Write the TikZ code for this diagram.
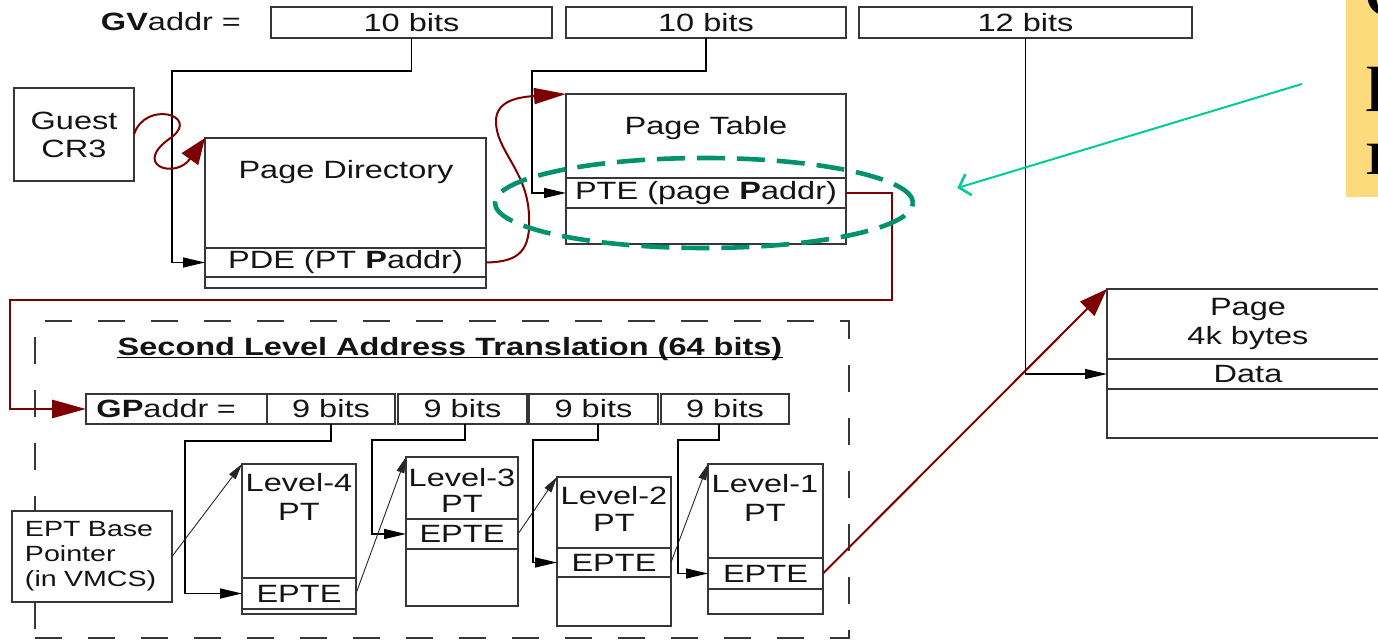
\documentclass[tikz,border=0pt]{standalone}
\usepackage{fontspec}
\setmainfont{Liberation Sans}[FakeStretch=1.3]
\newfontfamily\notefont{Liberation Serif}[FakeStretch=1.3]
\usepackage{tikz}
\usetikzlibrary{arrows.meta,positioning,calc,shapes.geometric}
\definecolor{fontgray}{RGB}{20,20,20}
\definecolor{boxgray}{RGB}{55,55,55}
\definecolor{darkred}{RGB}{125,0,0}
\definecolor{ringgreen}{RGB}{0,146,108}
\definecolor{mintgreen}{RGB}{0,204,150}
\definecolor{noteyellow}{RGB}{253,218,124}
\newcommand{\diagfont}{\fontsize{12.5}{14.5}\selectfont}

\begin{document}
\begin{tikzpicture}[x=0.5pt, y=-0.5pt, >=Triangle, font=\diagfont,
	cellBox/.style={draw=boxgray, line width=0.75pt, rectangle, inner sep=0pt, outer sep=0pt, anchor=north west, text=fontgray},
	fieldBox/.style={cellBox, minimum height=15.5pt},
	word/.style={draw=none, inner sep=0pt, text=fontgray},
	wire/.style={line width=0.7pt, draw=black, -{Triangle[length=11pt,width=5pt]}},
	thinArrow/.style={line width=0.45pt, draw=black!85, -{Triangle[length=8pt,width=4pt]}},
	redLine/.style={line width=1.4pt, draw=darkred, -{Triangle[length=17pt,width=9pt]}},
	redCurve/.style={line width=1pt, draw=darkred},
	ring/.style={draw=ringgreen, ellipse, line width=2.3pt, dash pattern=on 14pt off 6pt, inner sep=0pt},
	slatFrame/.style={cellBox, line width=0.6pt, dash pattern=on 13.5pt off 13pt},
	noteLine/.style={draw=mintgreen, line width=1pt, -{Straight Barb[length=5pt,width=11pt,line width=1.3pt]}}
	]
	\useasboundingbox (0,0) rectangle (1378,640);

	% guest virtual address
	\node[word, anchor=base] (gvlabel) at (171,31) {\textbf{GV}addr =};
	\node[fieldBox, minimum width=140.5pt] (gva) at (271,7) {10 bits};
	\node[fieldBox, minimum width=140pt] (gvb) at (566,7) {10 bits};
	\node[fieldBox, minimum width=166.5pt] (gvc) at (859,7) {12 bits};

	% guest page walk
	\node[cellBox, minimum width=60pt, minimum height=46.5pt, align=center, font=\fontsize{12.5}{14}\selectfont] (cr3) at (14,88) {Guest\\CR3};
	\node[cellBox, minimum width=140.5pt, minimum height=55pt] (pdhead) at (205,138) {};
	\node[cellBox, minimum width=140.5pt, minimum height=14.5pt, below=0pt of pdhead] (pde) {PDE (PT \textbf{P}addr)};
	\node[cellBox, minimum width=140.5pt, minimum height=5.5pt, below=0pt of pde] (pdfoot) {};
	\node[word] (pdtext) at (346,172) {Page Directory};

	\node[cellBox, minimum width=140pt, minimum height=42pt] (pthead) at (566,94) {};
	\node[cellBox, minimum width=140pt, minimum height=15pt, below=0pt of pthead] (pte) {PTE (page \textbf{P}addr)};
	\node[cellBox, minimum width=140pt, minimum height=18pt, below=0pt of pte] (ptfoot) {};
	\node[word] (pttext) at (706,128) {Page Table};

	% the 4k page
	\node[cellBox, minimum width=141pt, minimum height=35pt, align=center] (pghead) at (1107,289) {Page\\4k bytes};
	\node[cellBox, minimum width=141pt, minimum height=15pt, below=0pt of pghead] (pgdata) {Data};
	\node[cellBox, minimum width=141pt, minimum height=24.5pt, below=0pt of pgdata] (pgfoot) {};

	% second level address translation
	\node[slatFrame, minimum width=407pt, minimum height=158.5pt] (slat) at (35,321) {};
	\node[word, anchor=base, font=\diagfont\bfseries] (sltitle) at (450,356) {Second Level Address Translation (64 bits)};
	\draw[line width=0.7pt] ([yshift=-0.8pt]sltitle.base west) -- ([yshift=-0.8pt]sltitle.base east);

	\node[fieldBox, minimum width=90.5pt, minimum height=15pt, text width=80pt, align=left] (gpaddr) at (86,394) {\textbf{GP}addr =};
	\node[fieldBox, minimum width=64pt, minimum height=15pt] (gp1) at (267,394) {9 bits};
	\node[fieldBox, minimum width=64.5pt, minimum height=15pt] (gp2) at (398,394) {9 bits};
	\node[fieldBox, minimum width=64.5pt, minimum height=15pt] (gp3) at (529,394) {9 bits};
	\node[fieldBox, minimum width=64pt, minimum height=15pt] (gp4) at (661,394) {9 bits};

	\node[cellBox, fill=white, minimum width=80pt, minimum height=45.5pt, text width=67pt, align=left, font=\fontsize{11}{12.5}\selectfont] (eptbase) at (12,511) {EPT Base\\Pointer\\(in VMCS)};

	\node[cellBox, minimum width=57pt, minimum height=57pt] (l4head) at (242,464) {};
	\node[cellBox, minimum width=57pt, minimum height=15.5pt, below=0pt of l4head] (l4epte) {EPTE};
	\node[cellBox, minimum width=57pt, minimum height=2.5pt, below=0pt of l4epte] (l4foot) {};
	\node[word, align=center] (l4text) at (299,497) {Level-4\\PT};

	\node[cellBox, minimum width=56pt, minimum height=31pt] (l3head) at (406,457) {};
	\node[cellBox, minimum width=56pt, minimum height=15pt, below=0pt of l3head] (l3epte) {EPTE};
	\node[cellBox, minimum width=56pt, minimum height=28.5pt, below=0pt of l3epte] (l3foot) {};
	\node[word, align=center, font=\fontsize{12.5}{13}\selectfont] (l3text) at (462,490) {Level-3\\PT};

	\node[cellBox, minimum width=57pt, minimum height=35.5pt] (l2head) at (557,477) {};
	\node[cellBox, minimum width=57pt, minimum height=14.5pt, below=0pt of l2head] (l2epte) {EPTE};
	\node[cellBox, minimum width=57pt, minimum height=24.5pt, below=0pt of l2epte] (l2foot) {};
	\node[word, align=center, font=\fontsize{12.5}{13.5}\selectfont] (l2text) at (614,509) {Level-2\\PT};

	\node[cellBox, minimum width=57.5pt, minimum height=47pt] (l1head) at (708,464) {};
	\node[cellBox, minimum width=57.5pt, minimum height=15.5pt, below=0pt of l1head] (l1epte) {EPTE};
	\node[cellBox, minimum width=57.5pt, minimum height=12.5pt, below=0pt of l1epte] (l1foot) {};
	\node[word, align=center] (l1text) at (765,498) {Level-1\\PT};

	% index wires
	\draw[wire] (gva.south) |- (172,71) |- (pde.west);
	\draw[wire] (gvb.south) |- (532,71) |- (pte.west);
	\draw[wire] (gvc.south) |- (pgdata.west);
	\draw[wire] (gp1.south) |- (185,441) |- (l4epte.west);
	\draw[wire] ([xshift=1.25pt]gp2.south) |- (372,440) |- (l3epte.west);
	\draw[wire] ([xshift=2.25pt]gp3.south) |- (533,440) |- (l2epte.west);
	\draw[wire] ([xshift=-3pt]gp4.south) |- (678,440) |- (l1epte.west);

	% EPT walk
	\draw[thinArrow] (eptbase.east) -- (l4head.north west);
	\draw[thinArrow] (l4epte.east) -- (l3head.north west);
	\draw[thinArrow] (l3epte.east) -- (l2head.north west);
	\draw[thinArrow] (l2epte.east) -- (l1head.north west);

	% guest walk
	\draw[redCurve, -{Triangle[length=13pt,width=10pt]}] (cr3.east) .. controls (145,100) and (200,115) .. (172,137) .. controls (130,165) and (175,180) .. (pdhead.north west);
	\draw[redCurve, -{Triangle[length=16pt,width=8pt]}] (pde.east) .. controls (520,262) and (531,250) .. (529,215) .. controls (527,170) and (495,150) .. (496,120) .. controls (497,100) and (520,97) .. (pthead.north west);
	\draw[redLine] (pte.east) -| (892,300) -| (10,409) -- (gpaddr.west);
	\draw[redCurve, -{Triangle[length=14pt,width=10pt]}] (l1epte.east) -- (pghead.north west);

	% highlight and note
	\node[ring, minimum width=209pt, minimum height=45pt] (ptering) at (704,203) {};
	\node[cellBox, draw=none, fill=noteyellow, minimum width=30pt, minimum height=98.5pt] (note) at (1346,0) {};
	\node[word, anchor=base west, text=black, font=\notefont\fontsize{33}{40}\selectfont] (noteC) at (1364,18) {C};
	\node[word, anchor=base west, text=black, font=\notefont\fontsize{33}{40}\selectfont] (noteP) at (1365,98) {p};
	\node[word, anchor=base west, text=black, font=\notefont\fontsize{33}{40}\selectfont] (noteM) at (1365,175) {m};
	\coordinate (calloutstart) at (1302,84);
	\draw[noteLine] (calloutstart) -- ([xshift=21pt,yshift=7.5pt]ptering.east);
\end{tikzpicture}
\end{document}
